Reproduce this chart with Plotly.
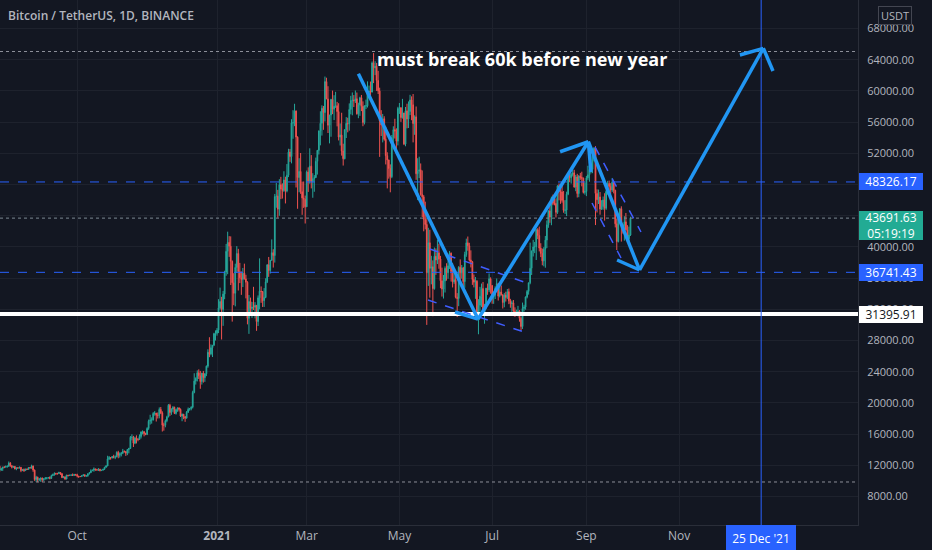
import pandas as pd
import plotly.graph_objects as go

# BTCUSDT daily candles, 2020-08-11 .. 2021-09-30
first_open = 11890

closes = [
    # Aug 2020 (from 11th)
    11390, 11570, 11780, 11770, 11860, 11910, 12280, 11950, 11750, 11860, 11520,
    11680, 11650, 11750, 11330, 11470, 11320, 11530, 11470, 11710, 11650,
    # Sep 2020
    11920, 11390, 10170, 10470, 10170, 10250, 10370, 10130, 10230, 10340,
    10390, 10440, 10330, 10680, 10790, 10950, 10940, 10930, 11080, 10920,
    10420, 10530, 10240, 10740, 10690, 10730, 10770, 10700, 10840, 10780,
    # Oct 2020
    10620, 10570, 10550, 10670, 10790, 10600, 10670, 10920, 11060, 11300,
    11370, 11540, 11430, 11420, 11500, 11320, 11370, 11500, 11750, 11910,
    12820, 12990, 12930, 13130, 13030, 13070, 13650, 13280, 13460, 13560, 13800,
    # Nov 2020
    13760, 13550, 14030, 14160, 15590, 15590, 14840, 15480, 15330, 15310,
    15700, 16280, 16320, 16070, 15960, 16720, 17650, 17780, 17820, 18650,
    18700, 18420, 18370, 19160, 18720, 17150, 17140, 17720, 18180, 19700,
    # Dec 2020
    18770, 19210, 19420, 18650, 19150, 19360, 19170, 18320, 18550, 18250,
    18040, 18800, 19170, 19270, 19440, 21340, 22800, 23120, 23850, 23480,
    22740, 23820, 23240, 23730, 24710, 26490, 26280, 27080, 27390, 28880, 28920,
    # Jan 2021
    29330, 32180, 33000, 31990, 33950, 36770, 39430, 40580, 40090, 38150,
    35400, 34050, 37370, 39150, 36830, 36040, 35830, 36630, 35890, 35470,
    30850, 33000, 32100, 32280, 32260, 32510, 30430, 33470, 34320, 34280, 33110,
    # Feb 2021
    33520, 35520, 37680, 36980, 38290, 39260, 38890, 46450, 46510, 44840,
    47970, 47410, 47230, 48590, 47180, 49190, 52150, 51580, 55890, 55920,
    57410, 54080, 48890, 49680, 47080, 46280, 46110, 45140,
    # Mar 2021
    49590, 48440, 50350, 48370, 48750, 48880, 50970, 52380, 54880, 55850,
    57770, 57220, 61190, 58970, 55600, 56900, 58910, 57650, 58030, 58100,
    57350, 54080, 54340, 52300, 51300, 55030, 55840, 55780, 57620, 58770, 58800,
    # Apr 2021
    58730, 58990, 57060, 58210, 59120, 58020, 55950, 58080, 58090, 59770,
    60000, 59860, 63580, 62960, 63160, 61340, 60010, 56150, 55630, 56430,
    53800, 51700, 51150, 50050, 49000, 54010, 55030, 54840, 53560, 57750,
    # May 2021
    57830, 56580, 57170, 53200, 57440, 56400, 57360, 58840, 58230, 55820,
    56670, 49380, 49690, 49880, 46730, 46420, 43540, 42870, 36690, 40530,
    37250, 37450, 34650, 38800, 38320, 39240, 38450, 35660, 34600, 35640, 37250,
    # Jun 2021
    36690, 37570, 39190, 36850, 35520, 35800, 33550, 33380, 37390, 36680,
    37310, 35550, 39020, 40520, 40140, 38320, 38100, 35820, 35480, 35600,
    31610, 32510, 33680, 34660, 31580, 32250, 34700, 34490, 35910, 35040,
    # Jul 2021
    33540, 33800, 34700, 35290, 33690, 34220, 33860, 32880, 33820, 33510,
    34260, 33090, 32730, 32820, 31780, 31390, 31530, 31780, 30840, 29790,
    32110, 32290, 33580, 34290, 35400, 37260, 39460, 39990, 40020, 42210, 41460,
    # Aug 2021
    39850, 39150, 38210, 39720, 40870, 42830, 44610, 43820, 46290, 45580,
    45560, 44430, 47830, 47110, 47050, 45960, 44690, 44720, 46760, 49340,
    48870, 49280, 49500, 47670, 48970, 46840, 49070, 48900, 48810, 46990, 47110,
    # Sep 2021
    48850, 49250, 49940, 49940, 51760, 52660, 46860, 46050, 46400, 44850,
    45170, 46020, 44940, 47110, 48130, 47750, 47300, 48310, 47260, 42960,
    40690, 43560, 44890, 42840, 42700, 43210, 42180, 41030, 41520, 43691.63,
]

highs = [
    11950, 11680, 11800, 11850, 11960, 11940, 12490, 12400, 12020, 11880, 11890,
    11690, 11720, 11830, 11770, 11530, 11590, 11550, 11580, 11720, 11770,
    12080, 11950, 11460, 10650, 10540, 10340, 10400, 10430, 10350, 10500,
    10410, 10480, 10580, 10800, 10940, 11100, 11040, 11040, 11180, 11080,
    10990, 10580, 10540, 10780, 10770, 10780, 10800, 10950, 10860, 10850,
    10920, 10630, 10600, 10690, 10800, 10800, 10680, 10960, 11100, 11490,
    11440, 11730, 11560, 11550, 11630, 11540, 11400, 11520, 11800, 12020,
    13220, 13190, 13030, 13150, 13350, 13250, 13790, 13860, 13650, 13690, 14100,
    13900, 13820, 14070, 14240, 15750, 15970, 15770, 15660, 15840, 15480,
    15960, 16340, 16480, 16330, 16180, 16880, 17860, 18480, 18150, 18820,
    18950, 18700, 18770, 19420, 19480, 18920, 17460, 17880, 18350, 19860,
    19890, 19300, 19600, 19520, 19170, 19420, 19420, 19290, 18640, 18560,
    18290, 18950, 19410, 19350, 19570, 21560, 23800, 23280, 24170, 24300,
    24100, 23840, 24100, 23790, 24790, 26870, 28420, 27500, 27400, 28990, 29300,
    29600, 33300, 34780, 33600, 34360, 36940, 40370, 41950, 41380, 41350,
    38260, 36630, 37850, 40100, 39750, 37950, 36850, 37300, 37850, 36420,
    35600, 33830, 33500, 32940, 34880, 32920, 32550, 33780, 38530, 34930, 34340,
    34720, 35980, 37800, 38710, 38310, 40960, 39700, 46790, 48200, 47310,
    48680, 48980, 48150, 49700, 49000, 50620, 52580, 52550, 56370, 57530,
    58350, 57500, 54180, 51370, 52040, 48370, 48390, 46580,
    49790, 50200, 52640, 51770, 49450, 49200, 51450, 52400, 54900, 57390,
    58150, 58070, 61840, 61690, 60600, 56930, 58980, 60040, 59450, 59880,
    58590, 58420, 55830, 57200, 53230, 55070, 56640, 56560, 58400, 59370, 59800,
    59460, 60050, 59790, 58490, 59250, 59480, 58660, 58150, 58880, 61220,
    60680, 61200, 63770, 64850, 63800, 63590, 62570, 60410, 57530, 57050,
    56750, 55400, 52130, 51170, 50580, 54350, 55460, 56430, 55200, 57960,
    58450, 57920, 58980, 57200, 57940, 58360, 58650, 59500, 59300, 59600,
    56870, 58000, 51370, 51560, 50700, 49800, 46640, 45800, 43550, 42450,
    42200, 38860, 38270, 39920, 39800, 40900, 40410, 38850, 37340, 36400, 37500,
    37900, 38230, 39480, 39290, 37910, 36790, 36400, 34070, 37530, 38400,
    37680, 37440, 39380, 41060, 41330, 40530, 39560, 38200, 36460, 36140,
    35740, 33300, 34880, 35300, 35500, 32700, 34750, 35300, 36600, 36100,
    35100, 33940, 34950, 35950, 35290, 35060, 35060, 33920, 34100, 34260,
    34600, 34660, 33340, 33120, 33190, 32250, 31950, 32440, 31900, 31060,
    32860, 32580, 33650, 34480, 35400, 40550, 39540, 40900, 40640, 42320, 42400,
    42600, 40470, 39780, 39970, 41400, 43390, 44700, 45310, 46450, 46700,
    46780, 46220, 47890, 48140, 47400, 48050, 47160, 46000, 47080, 49380,
    49760, 49510, 50500, 49880, 49230, 49370, 49200, 49490, 49640, 48890, 48240,
    49100, 50400, 51050, 50560, 51900, 52780, 52920, 47380, 47350, 47030,
    45990, 46460, 46880, 47250, 48470, 48500, 48170, 48840, 48370, 47330,
    43640, 44000, 44980, 45200, 42980, 43940, 44350, 42790, 42600, 43870,
]

lows = [
    11130, 11280, 11280, 11630, 11690, 11690, 11780, 11810, 11600, 11680, 11500,
    11370, 11570, 11590, 11120, 11260, 11150, 11280, 11440, 11450, 11600,
    11570, 11160, 10000, 9880, 9830, 9970, 9880, 9860, 10000, 10200,
    10190, 10280, 10200, 10250, 10630, 10670, 10750, 10810, 10890, 10770,
    10360, 10350, 10140, 10200, 10560, 10640, 10640, 10650, 10650, 10670,
    10450, 10380, 10500, 10540, 10610, 10530, 10560, 10530, 10820, 11040,
    11260, 11180, 11310, 11300, 11270, 11220, 11290, 11350, 11410, 11690,
    11900, 12680, 12720, 12900, 12890, 12790, 13050, 12900, 12990, 13140, 13430,
    13620, 13200, 13300, 13530, 14090, 15200, 14350, 14710, 14800, 15080,
    15280, 15440, 15960, 15710, 15860, 15870, 16540, 17220, 17340, 17740,
    18360, 17610, 18000, 18020, 18570, 16330, 16440, 16870, 17520, 18180,
    18330, 18470, 18860, 18570, 18500, 18860, 18900, 18200, 17650, 17910,
    17570, 18020, 18710, 19000, 19050, 19290, 21230, 22350, 22750, 23060,
    21810, 22350, 22600, 22700, 23430, 24500, 25860, 26100, 25880, 27320, 28000,
    28620, 28950, 31960, 28130, 29880, 33290, 36300, 36500, 38720, 35110,
    30420, 32530, 32380, 36700, 34410, 35360, 33850, 34850, 35820, 33400,
    30070, 28850, 31390, 30900, 31910, 30840, 29240, 29860, 31990, 32830, 32300,
    32300, 33420, 35360, 36160, 36570, 38220, 37350, 37990, 45020, 43730,
    43990, 46130, 46200, 47050, 45570, 47000, 48950, 50900, 50710, 53860,
    55480, 47620, 44890, 47000, 46800, 44110, 45000, 43000,
    45120, 47050, 48100, 47500, 46300, 47070, 48880, 49270, 51850, 53020,
    54270, 55010, 56080, 58950, 54600, 53270, 54120, 57020, 56260, 57820,
    55450, 53650, 53000, 51700, 50430, 51230, 53960, 54690, 54900, 57000, 56870,
    57930, 58450, 56960, 56500, 56800, 57410, 55470, 55700, 57670, 57870,
    59040, 59370, 59800, 61000, 62020, 60000, 59600, 51540, 54220, 53400,
    53620, 50570, 47500, 48750, 47000, 48810, 53220, 53890, 52330, 53010,
    57050, 56030, 56450, 53050, 52900, 55200, 55240, 56900, 56240, 53400,
    54370, 48600, 46000, 48820, 46560, 43830, 42000, 42250, 30000, 35000,
    33490, 35200, 31110, 34520, 36420, 37800, 37200, 34700, 33630, 33380, 34150,
    35670, 35920, 37170, 35560, 34800, 35260, 33400, 31000, 32400, 35780,
    35930, 34600, 34760, 38730, 39510, 38120, 37370, 35130, 34810, 33340,
    31250, 28800, 31700, 32300, 31270, 30150, 32000, 33860, 34200, 34000,
    32710, 32700, 33320, 34380, 33120, 33530, 33770, 32100, 32260, 33000,
    33310, 32660, 32200, 31600, 31130, 31020, 31170, 31100, 30410, 29280,
    29480, 31710, 31950, 33400, 33880, 35210, 36400, 38770, 39200, 38320, 41000,
    39420, 38690, 37640, 37510, 37330, 39850, 42450, 43090, 42780, 45350,
    45330, 43770, 44240, 45970, 45520, 45670, 44380, 44220, 43950, 46630,
    48290, 48120, 49030, 47600, 47140, 46330, 46370, 48600, 47760, 46850, 46700,
    46510, 48590, 48360, 49420, 49450, 50970, 42800, 44410, 45500, 44130,
    44740, 44750, 43370, 44750, 46700, 47050, 46750, 47050, 46860, 42500,
    39600, 40570, 43070, 40680, 41700, 40800, 42100, 40900, 40750, 41400,
]

dates = pd.date_range("2020-08-11", "2021-09-30", freq="D")
opens = [first_open] + closes[:-1]
assert len(dates) == len(closes) == len(highs) == len(lows)

# horizontal levels drawn on the chart
resistance_level = 48326.17
support_level = 36741.43
key_level = 31395.91
last_price = 43691.63
countdown = "05:19:19"
dotted_levels = [65050, 9860]
marked_date = "2021-12-25"

# hand-drawn zig-zag arrow (date, price)
path_dates = ["2021-04-04", "2021-06-21 17:00", "2021-09-02 07:00",
              "2021-10-06", "2021-12-26 10:00"]
path_prices = [62200, 30750, 53480, 37040, 65460]
# arrow-head wings: (date, price, index of tip in path)
wings = [("2021-06-06 14:00", 31650, 1),
         ("2021-08-14 17:00", 52200, 2), ("2021-09-04", 49600, 2),
         ("2021-09-21 05:00", 38320, 3),
         ("2021-12-11", 64600, 4), ("2022-01-01 19:00", 62550, 4)]
# dashed channels: (date0, price0, date1, price1)
channels = [("2021-05-21", 39730, "2021-07-24", 35370),
            ("2021-05-19 19:00", 33190, "2021-07-25 22:00", 28830),
            ("2021-09-06 17:00", 52800, "2021-10-06 22:00", 41910),
            ("2021-09-04 17:00", 45630, "2021-09-23 19:00", 38580)]
note_text = "must break 60k before new year"
note_date, note_price = "2021-04-14 22:00", 64090

tick_prices = list(range(8000, 68001, 4000))
month_ticks = ["2020-10-01", "2021-01-01", "2021-03-01", "2021-05-01",
               "2021-07-01", "2021-09-01", "2021-11-01"]
month_labels = ["Oct", "<b>2021</b>", "Mar", "May", "Jul", "Sep", "Nov"]

BG = "#131722"
GRID = "#1e222d"
TXT = "#b2b5be"
UP = "#26a69a"
DOWN = "#ef5350"
BLUE = "#2962ff"
ARROW = "#2196f3"
FONT = "Open Sans"

fig = go.Figure(go.Candlestick(
    x=dates, open=opens, high=highs, low=lows, close=closes,
    increasing=dict(line=dict(color=UP, width=1), fillcolor=UP),
    decreasing=dict(line=dict(color=DOWN, width=1), fillcolor=DOWN),
    whiskerwidth=0, showlegend=False, hoverinfo="skip",
))

for p in dotted_levels:
    fig.add_shape(type="line", xref="paper", x0=0, x1=1, y0=p, y1=p,
                  line=dict(color="#8c8f99", width=1, dash="dot"))
fig.add_shape(type="line", xref="paper", x0=0, x1=1, y0=last_price, y1=last_price,
              line=dict(color="#7d8a93", width=1, dash="dot"))
for p in [resistance_level, support_level]:
    fig.add_shape(type="line", xref="paper", x0=0, x1=1, y0=p, y1=p,
                  line=dict(color=BLUE, width=1, dash="dash"))
fig.add_shape(type="line", xref="paper", x0=0, x1=1, y0=key_level, y1=key_level,
              line=dict(color="white", width=4))
fig.add_shape(type="line", yref="paper", y0=0, y1=1, x0=marked_date, x1=marked_date,
              line=dict(color=BLUE, width=1))

for d0, p0, d1, p1 in channels:
    fig.add_shape(type="line", x0=d0, y0=p0, x1=d1, y1=p1,
                  line=dict(color="#3f5dff", width=1.5, dash="dash"))

for i in range(len(path_dates) - 1):
    fig.add_shape(type="line", x0=path_dates[i], y0=path_prices[i],
                  x1=path_dates[i + 1], y1=path_prices[i + 1],
                  line=dict(color=ARROW, width=3.5))
for d, p, k in wings:
    fig.add_shape(type="line", x0=d, y0=p, x1=path_dates[k], y1=path_prices[k],
                  line=dict(color=ARROW, width=3.5))

fig.add_annotation(x=note_date, y=note_price, text="<b>%s</b>" % note_text,
                   showarrow=False, xanchor="left", yanchor="middle",
                   font=dict(family=FONT, size=18, color="white"))

# title
fig.add_annotation(xref="paper", yref="paper", x=0, y=1, xanchor="left", yanchor="top",
                   xshift=6, yshift=-5, showarrow=False,
                   text="Bitcoin / TetherUS, 1D, BINANCE",
                   font=dict(family=FONT, size=12, color=TXT, weight=600))

# price scale labels
def price_box(y, text, bg, fg, h=13, anchor="middle", shift=0):
    fig.add_annotation(xref="paper", x=1, y=y, xanchor="left", yanchor=anchor,
                       xshift=1, yshift=shift, showarrow=False, text=text,
                       bgcolor=bg, bordercolor=bg, borderpad=1, width=60, height=h,
                       align="center", font=dict(family=FONT, size=12, color=fg))

price_box(resistance_level, "%.2f" % resistance_level, BLUE, "white")
price_box(last_price, "%.2f<br>%s" % (last_price, countdown), "#22ab94", "white",
          h=25, anchor="top", shift=7)
price_box(support_level, "%.2f" % support_level, BLUE, "white")
price_box(key_level, "%.2f" % key_level, "white", "#131722")

fig.add_annotation(xref="paper", yref="paper", x=1, y=1, xanchor="left", yanchor="top",
                   xshift=20, yshift=-6, showarrow=False, text="USDT",
                   bordercolor="#434651", borderwidth=1, borderpad=1, width=30,
                   font=dict(family=FONT, size=11, color=TXT))

fig.add_annotation(x=marked_date, yref="paper", y=0, yanchor="top", showarrow=False,
                   text="25 Dec '21", bgcolor=BLUE, bordercolor=BLUE, borderpad=3,
                   width=62, height=18,
                   font=dict(family=FONT, size=12, color="white"))

fig.update_layout(
    width=932, height=550,
    paper_bgcolor=BG, plot_bgcolor=BG,
    margin=dict(l=0, r=74, t=0, b=25),
    showlegend=False,
    xaxis=dict(
        type="date", range=["2020-08-11 05:00", "2022-02-26 17:00"],
        rangeslider=dict(visible=False),
        tickvals=month_ticks, ticktext=month_labels,
        showgrid=True, gridcolor=GRID, gridwidth=1,
        showline=True, linecolor="#2a2e39", zeroline=False,
        tickfont=dict(family=FONT, size=12, color=TXT),
    ),
    yaxis=dict(
        side="right", range=[4346, 71654],
        tickvals=tick_prices, ticktext=["%.2f" % v for v in tick_prices],
        showgrid=True, gridcolor=GRID, gridwidth=1,
        showline=True, linecolor="#2a2e39", zeroline=False,
        ticklabelstandoff=6,
        tickfont=dict(family=FONT, size=11, color=TXT),
    ),
)

fig.write_html("out.html", config={"displayModeBar": False},
               post_script="document.body.style.margin='0';"
                           "document.body.style.background='%s';" % BG)
